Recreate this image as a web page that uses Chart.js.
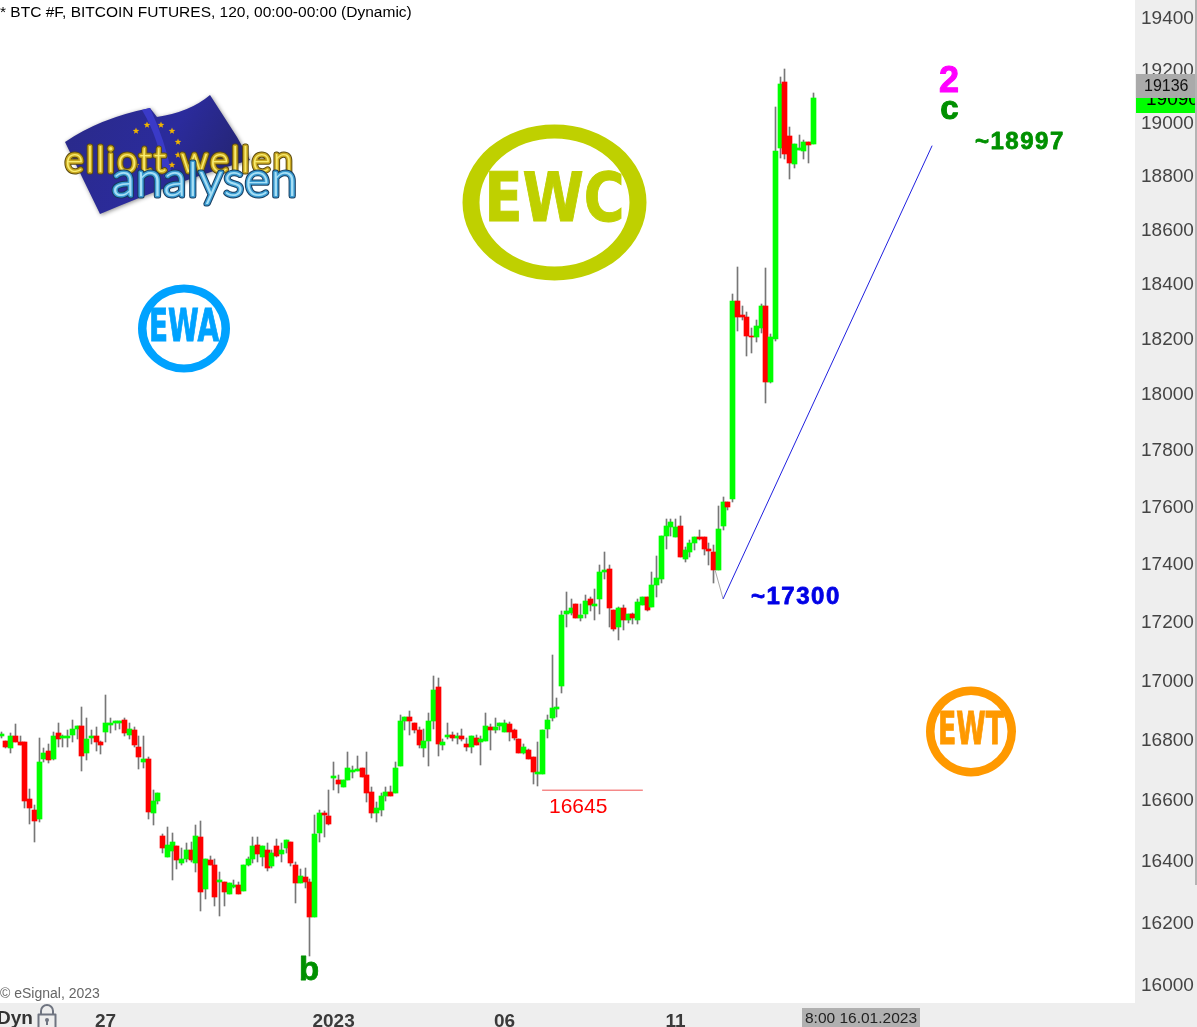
<!DOCTYPE html>
<html>
<head>
<meta charset="utf-8">
<title>BTC #F</title>
<script src="https://cdn.jsdelivr.net/npm/chart.js@4/dist/chart.umd.min.js"></script>
<style>
  html, body { margin: 0; padding: 0; background: #fff; overflow: hidden; }
  #wrap { position: relative; width: 1197px; height: 1027px; }
</style>
</head>
<body>
<div id="wrap"><canvas id="chart" width="1197" height="1027"></canvas></div>
<script>
// Candles, oldest first
const opens = [16811,16793,16771,16810,16790,16790,16600,16564,16534,16733,16760,16733,16820,16803,16803,16814,16834,16844,16753,16803,16810,16790,16824,16847,16854,16854,16864,16814,16830,16773,16723,16733,16554,16593,16479,16410,16430,16446,16390,16403,16433,16390,16475,16307,16400,16384,16329,16329,16290,16313,16319,16300,16384,16403,16449,16410,16433,16381,16446,16420,16439,16459,16384,16326,16345,16329,16216,16489,16554,16544,16670,16663,16640,16663,16690,16693,16703,16680,16623,16554,16564,16610,16624,16620,16710,16861,16874,16854,16830,16770,16793,16861,16976,16780,16807,16813,16803,16810,16783,16773,16803,16790,16793,16840,16830,16844,16824,16851,16830,16800,16753,16763,16740,16683,16683,16834,16871,16901,16979,17224,17228,17259,17211,17224,17276,17252,17276,17369,17379,17238,17180,17245,17203,17224,17203,17255,17283,17248,17324,17345,17495,17526,17491,17530,17414,17438,17470,17491,17491,17449,17438,17376,17530,17614,17624,18331,18280,18273,18207,18200,18236,18316,18040,18196,18902,19151,18947,18841,18894,18887,18921,18917];
const highs = [16825,16795,16820,16851,16810,16790,16633,16580,16803,16770,16783,16824,16854,16814,16830,16864,16844,16908,16871,16830,16841,16793,16949,16871,16861,16861,16871,16854,16841,16810,16810,16740,16630,16620,16485,16508,16489,16446,16439,16456,16459,16515,16528,16403,16413,16403,16361,16329,16326,16335,16329,16384,16410,16475,16475,16446,16456,16433,16469,16456,16466,16459,16394,16371,16374,16339,16548,16564,16561,16630,16723,16680,16663,16757,16710,16745,16703,16757,16640,16590,16620,16640,16643,16723,16881,16874,16895,16854,16840,16834,16888,17013,17007,16800,16854,16824,16820,16834,16803,16810,16813,16810,16888,16851,16871,16854,16864,16857,16834,16800,16783,16767,16740,16790,16830,16881,17085,16939,17234,17300,17276,17259,17259,17290,17283,17310,17393,17438,17393,17238,17248,17255,17224,17228,17276,17283,17283,17369,17424,17495,17554,17554,17554,17565,17456,17480,17491,17516,17491,17470,17463,17600,17631,17614,18360,18459,18316,18294,18236,18265,18320,18452,18211,19057,19170,19200,18981,18917,18951,18932,18921,19109];
const lows = [16805,16770,16753,16790,16781,16572,16519,16460,16525,16723,16720,16730,16773,16773,16773,16790,16800,16693,16730,16783,16760,16750,16790,16820,16830,16834,16810,16800,16773,16700,16703,16534,16515,16584,16423,16410,16335,16371,16384,16394,16394,16361,16235,16274,16384,16252,16219,16252,16290,16310,16290,16300,16381,16390,16394,16381,16365,16374,16410,16394,16423,16381,16261,16326,16310,16090,16216,16459,16475,16515,16630,16620,16640,16663,16670,16693,16673,16590,16538,16525,16544,16593,16610,16620,16710,16830,16813,16820,16770,16740,16710,16834,16743,16763,16800,16793,16783,16793,16760,16753,16780,16713,16793,16763,16820,16830,16824,16793,16797,16753,16750,16733,16650,16643,16683,16803,16861,16874,16956,17180,17221,17211,17200,17211,17235,17203,17224,17345,17180,17166,17136,17170,17193,17190,17190,17255,17235,17248,17283,17331,17449,17495,17491,17421,17403,17421,17445,17480,17428,17393,17331,17376,17516,17586,17614,18225,18265,18134,18142,18182,18215,17964,18036,18186,18861,18857,18785,18826,18891,18857,18845,18917];
const closes = [16818,16773,16810,16790,16781,16595,16570,16528,16723,16753,16730,16810,16800,16810,16810,16834,16844,16743,16800,16810,16790,16780,16854,16854,16861,16861,16820,16834,16780,16740,16733,16557,16593,16620,16439,16449,16459,16400,16403,16433,16400,16479,16297,16403,16384,16281,16335,16297,16326,16319,16290,16384,16403,16446,16420,16446,16374,16423,16413,16433,16466,16390,16326,16348,16329,16216,16485,16554,16548,16518,16677,16650,16663,16703,16697,16700,16673,16620,16554,16570,16610,16623,16610,16703,16861,16874,16861,16830,16780,16793,16861,16966,16783,16790,16813,16803,16810,16800,16773,16810,16780,16800,16844,16830,16840,16854,16854,16824,16803,16753,16773,16733,16690,16690,16830,16864,16905,16908,17220,17234,17245,17211,17221,17269,17255,17259,17369,17376,17245,17173,17245,17203,17224,17211,17266,17283,17238,17324,17348,17495,17530,17544,17526,17421,17445,17470,17491,17484,17449,17442,17376,17519,17614,17596,18331,18276,18273,18207,18200,18240,18316,18040,18200,18887,19143,18879,18845,18917,18902,18921,18910,19090];

// Axis labels
const priceTicks = [16000,16200,16400,16600,16800,17000,17200,17400,17600,17800,18000,18200,18400,18600,18800,19000,19200,19400];
const dateTickIndexes = [22, 70, 106, 142];
const dateTickLabels = ['27', '2023', '06', '11'];

// Drawn lines: wave projection and the 16645 level
const projectionX = [152, 196];
const projectionY = [17276, 18909];
const connectorX = [150.3, 152];
const connectorY = [17376, 17276];
const levelX = [113.9, 135.1];
const levelY = [16630, 16630];

const FONT = '"Liberation Sans", Arial, sans-serif';
const UP = '#00ff00';
const DOWN = '#ff0000';
const candleIndexes = opens.map((_, i) => i);

function xy(xs, ys) {
    return xs.map((x, i) => ({ x: x, y: ys[i] }));
}

function strokedText(ctx, text, x, y, font, color, strokeW) {
    ctx.font = font;
    ctx.fillStyle = color;
    ctx.strokeStyle = color;
    ctx.lineWidth = strokeW;
    ctx.lineJoin = 'round';
    ctx.strokeText(text, x, y);
    ctx.fillText(text, x, y);
}

// Ring logo with the three letters inside
function ringLogo(ctx, cx, cy, rx, ry, ringW, ringH, text, textW, fontPx, color) {
    ctx.fillStyle = color;
    ctx.beginPath();
    ctx.ellipse(cx, cy, rx, ry, 0, 0, Math.PI * 2);
    ctx.ellipse(cx, cy, rx - ringW, ry - ringH, 0, 0, Math.PI * 2);
    ctx.fill('evenodd');
    ctx.font = 'bold ' + fontPx + 'px "DejaVu Sans", ' + FONT;
    ctx.textAlign = 'center';
    ctx.textBaseline = 'middle';
    ctx.strokeStyle = color;
    ctx.lineWidth = 1;
    ctx.strokeText(text, cx, cy + 1, textW);
    ctx.fillText(text, cx, cy + 1, textW);
}

function star(ctx, x, y, r) {
    ctx.beginPath();
    for (let i = 0; i < 10; i++) {
        const a = -Math.PI / 2 + i * Math.PI / 5;
        const d = i % 2 ? r * 0.42 : r;
        ctx.lineTo(x + Math.cos(a) * d, y + Math.sin(a) * d);
    }
    ctx.closePath();
    ctx.fill();
}

function euLogo(ctx) {
    ctx.save();
    // flag
    ctx.shadowColor = 'rgba(0,0,0,0.45)';
    ctx.shadowBlur = 4;
    ctx.shadowOffsetX = 1;
    ctx.shadowOffsetY = 1;
    const g = ctx.createLinearGradient(70, 110, 230, 200);
    g.addColorStop(0, '#2a2a8a');
    g.addColorStop(0.55, '#2b2b9c');
    g.addColorStop(1, '#24246e');
    ctx.fillStyle = g;
    ctx.beginPath();
    ctx.moveTo(65, 142);
    ctx.quadraticCurveTo(100, 118, 150, 108);
    ctx.lineTo(157, 117);
    ctx.quadraticCurveTo(190, 112, 210, 95);
    ctx.lineTo(237, 137);
    ctx.lineTo(250, 160);
    ctx.quadraticCurveTo(180, 180, 100, 214);
    ctx.closePath();
    ctx.fill();
    ctx.shadowColor = 'transparent';
    ctx.fillStyle = '#3a3ac8';
    ctx.beginPath();
    ctx.moveTo(150, 108);
    ctx.quadraticCurveTo(165, 140, 172, 175);
    ctx.lineTo(164, 178);
    ctx.quadraticCurveTo(160, 140, 142, 110);
    ctx.closePath();
    ctx.fill();
    ctx.fillStyle = '#f0b400';
    [[136, 131], [147, 125], [161, 125], [172, 131], [178, 142], [178, 155], [172, 165], [136, 165]].forEach(p => star(ctx, p[0], p[1], 3.5));

    ctx.textAlign = 'left';
    ctx.textBaseline = 'alphabetic';
    ctx.lineJoin = 'round';
    // yellow line
    ctx.font = '300 36px Lato, "Noto Sans", ' + FONT;
    ctx.letterSpacing = '2.5px';
    ctx.strokeStyle = '#5a4a10';
    ctx.lineWidth = 5;
    ctx.strokeText('elliott wellen', 65, 172, 230);
    ctx.strokeStyle = '#c9a820';
    ctx.lineWidth = 3;
    ctx.strokeText('elliott wellen', 65, 172, 230);
    ctx.fillStyle = '#f8ec70';
    ctx.fillText('elliott wellen', 65, 172, 230);
    // blue line
    ctx.letterSpacing = '1px';
    ctx.font = '300 48px Lato, "Noto Sans", ' + FONT;
    ctx.strokeStyle = '#163a5c';
    ctx.lineWidth = 5;
    ctx.strokeText('analysen', 112, 196, 186);
    ctx.strokeStyle = '#3a9ad0';
    ctx.lineWidth = 3;
    ctx.strokeText('analysen', 112, 196, 186);
    ctx.fillStyle = '#a8e0f6';
    ctx.fillText('analysen', 112, 196, 186);
    ctx.letterSpacing = '0px';
    ctx.restore();
}

function lockIcon(ctx) {
    ctx.save();
    ctx.strokeStyle = '#6f7480';
    ctx.lineWidth = 2;
    ctx.beginPath();
    ctx.moveTo(41, 1014);
    ctx.lineTo(41, 1011);
    ctx.arc(47, 1011, 6, Math.PI, 0);
    ctx.lineTo(53, 1014);
    ctx.stroke();
    ctx.strokeRect(38.5, 1014.5, 17, 14);
    ctx.fillStyle = '#6f7480';
    ctx.beginPath();
    ctx.arc(47, 1020, 2, 0, Math.PI * 2);
    ctx.fill();
    ctx.fillRect(46, 1020, 2, 5);
    ctx.restore();
}

// Panels behind the axes
const panelPlugin = {
    id: 'panels',
    beforeDraw(chart) {
        const ctx = chart.ctx;
        const a = chart.chartArea;
        ctx.save();
        ctx.fillStyle = '#ffffff';
        ctx.fillRect(0, 0, chart.width, chart.height);
        ctx.fillStyle = '#eeeeee';
        ctx.fillRect(a.right, 0, chart.width - a.right, chart.height);
        ctx.fillRect(0, a.bottom, chart.width, chart.height - a.bottom);
        ctx.restore();
    }
};

// The source chart draws candles on whole pixels
const snapPlugin = {
    id: 'snap',
    beforeDatasetsDraw(chart) {
        chart.data.datasets.forEach((ds, i) => {
            if (ds.type !== 'bar') return;
            chart.getDatasetMeta(i).data.forEach(el => {
                el.x = Math.floor(el.x) + 0.5;
                el.y = Math.round(el.y);
                el.base = Math.round(el.base);
                if (el.y === el.base) el.base = el.y + 1;
            });
        });
    }
};

// Logos, texts and the price boxes on top
const overlayPlugin = {
    id: 'overlay',
    afterDraw(chart) {
        const ctx = chart.ctx;
        ctx.save();

        euLogo(ctx);
        ringLogo(ctx, 554.5, 202.5, 92, 78, 17, 14, 'EWC', 140, 68, '#bfd000');
        ringLogo(ctx, 184, 328.5, 46, 44, 8.5, 8, 'EWA', 70, 44, '#00a2ff');
        ringLogo(ctx, 971, 731.5, 45, 45, 8.5, 8.5, 'EWT', 66, 44, '#ff9900');

        ctx.textAlign = 'left';
        ctx.textBaseline = 'middle';
        ctx.fillStyle = '#000';
        ctx.font = '15.5px ' + FONT;
        ctx.fillText('* BTC #F, BITCOIN FUTURES, 120, 00:00-00:00 (Dynamic)', 0, 13);

        ctx.fillStyle = '#666';
        ctx.font = '14px ' + FONT;
        ctx.fillText('© eSignal, 2023', 0, 994);

        ctx.fillStyle = '#ff0000';
        ctx.font = '21px ' + FONT;
        ctx.fillText('16645', 549, 807);

        ctx.letterSpacing = '1.5px';
        strokedText(ctx, '~17300', 751, 597, 'bold 24px ' + FONT, '#0000e6', 0.8);
        strokedText(ctx, '~18997', 975, 142, 'bold 24px ' + FONT, '#009000', 0.8);
        ctx.letterSpacing = '0px';

        ctx.textAlign = 'center';
        strokedText(ctx, '2', 949, 82, 'bold 36px ' + FONT, '#ff00ff', 1);
        strokedText(ctx, 'c', 949.5, 110, 'bold 33px ' + FONT, '#009000', 1);
        strokedText(ctx, 'b', 309, 971, 'bold 33px ' + FONT, '#009000', 0.8);

        // bottom-left mode label
        ctx.textAlign = 'left';
        ctx.fillStyle = '#333';
        ctx.font = 'bold 19px ' + FONT;
        ctx.fillText('Dyn', -3, 1019);
        lockIcon(ctx);

        // cursor date box
        ctx.fillStyle = '#b0b0b0';
        ctx.fillRect(802, 1008, 118, 19);
        ctx.fillStyle = '#222';
        ctx.font = '15.5px ' + FONT;
        ctx.textAlign = 'center';
        ctx.fillText('8:00 16.01.2023', 861, 1019);

        // price axis labels, placed from the scale, sit slightly low in the source
        const yScale = chart.scales.y;
        ctx.textAlign = 'left';
        ctx.fillStyle = '#444444';
        ctx.font = '19px ' + FONT;
        priceTicks.forEach(v => {
            ctx.fillText(String(v), chart.chartArea.right + 6, yScale.getPixelForValue(v) + 2);
        });

        // last price boxes
        ctx.fillStyle = UP;
        ctx.fillRect(1136, 98, 61, 15);
        ctx.fillStyle = '#000';
        ctx.font = '19px ' + FONT;
        ctx.fillText('19090', 1146, 100);
        ctx.fillStyle = '#aaaaaa';
        ctx.fillRect(1136, 74, 61, 24);
        ctx.fillStyle = '#111';
        ctx.font = '16px ' + FONT;
        ctx.fillText('19136', 1144, 87);

        // scrollbar on the right edge
        ctx.fillStyle = '#b4b4b4';
        ctx.fillRect(1195, 0, 2, 885);
        ctx.restore();
    }
};

new Chart(document.getElementById('chart').getContext('2d'), {
    type: 'bar',
    data: {
        datasets: [
            {
                type: 'bar',
                order: 3,
                grouped: false,
                barThickness: 1,
                backgroundColor: '#777777',
                data: candleIndexes.map(i => ({ x: i, y: [lows[i], highs[i]] }))
            },
            {
                type: 'bar',
                order: 2,
                grouped: false,
                barThickness: 5,
                backgroundColor: candleIndexes.map(i => closes[i] >= opens[i] ? UP : DOWN),
                data: candleIndexes.map(i => ({ x: i, y: [opens[i], closes[i]] }))
            },
            {
                type: 'line',
                order: 1,
                data: xy(projectionX, projectionY),
                borderColor: '#2020e0',
                borderWidth: 1,
                pointRadius: 0
            },
            {
                type: 'line',
                order: 1,
                data: xy(connectorX, connectorY),
                borderColor: '#a8a8a8',
                borderWidth: 1,
                pointRadius: 0
            },
            {
                type: 'line',
                order: 1,
                data: xy(levelX, levelY),
                borderColor: '#f05050',
                borderWidth: 1,
                pointRadius: 0
            }
        ]
    },
    options: {
        responsive: false,
        animation: false,
        events: [],
        layout: { padding: 0 },
        plugins: { legend: { display: false }, tooltip: { enabled: false } },
        scales: {
            x: {
                type: 'linear',
                offset: false,
                min: -0.23,
                max: 238.71,
                grid: { display: false, drawTicks: false },
                border: { display: false },
                afterBuildTicks(scale) {
                    scale.ticks = dateTickIndexes.map(v => ({ value: v }));
                },
                afterFit(scale) {
                    scale.height = 24;
                    scale.paddingLeft = 0;
                    scale.paddingRight = 0;
                },
                ticks: {
                    autoSkip: false,
                    maxRotation: 0,
                    padding: 7,
                    color: '#3a3a3a',
                    font: { family: FONT, size: 19, weight: 'bold' },
                    callback(value) {
                        return dateTickLabels[dateTickIndexes.indexOf(value)];
                    }
                }
            },
            y: {
                type: 'logarithmic',
                position: 'right',
                bounds: 'data',
                min: 15939.5,
                max: 19465.8,
                grid: { display: false, drawTicks: false },
                border: { display: false },
                afterBuildTicks(scale) {
                    scale.ticks = priceTicks.map(v => ({ value: v }));
                },
                afterFit(scale) {
                    scale.width = 62;
                    scale.paddingTop = 0;
                    scale.paddingBottom = 0;
                },
                ticks: { display: false }
            }
        }
    },
    plugins: [panelPlugin, snapPlugin, overlayPlugin]
});
</script>
</body>
</html>
